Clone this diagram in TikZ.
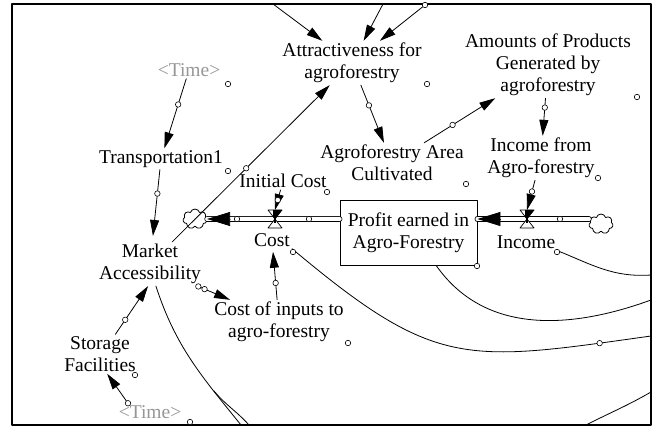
\documentclass[tikz,border=0pt]{standalone}
\usepackage{fontspec}
\setmainfont{Liberation Serif}
\usetikzlibrary{arrows.meta,shapes.symbols}
\definecolor{shadowgray}{RGB}{150,150,150}
\begin{document}
\begin{tikzpicture}[x=1pt, y=-1pt, font=\fontsize{19.5}{22}\selectfont, line join=round, line cap=round, >={Triangle[length=16pt,width=9pt]},
	var/.style={align=center, inner sep=2pt},
	shadowvar/.style={var, text=shadowgray},
	link/.style={->, line width=0.8pt},
	curvelink/.style={line width=0.8pt},
	handle/.style={circle, draw, fill=white, inner sep=0pt, minimum size=5.5pt, line width=0.6pt},
	pipe/.style={double, double distance=4pt, line width=0.8pt},
	flowhead/.style={-{Triangle[length=23pt,width=14pt]}, line width=0.8pt},
	stock/.style={draw, line width=0.8pt, align=center, minimum width=137pt, minimum height=65pt},
	sink/.style={cloud, cloud puffs=7, draw, line width=0.8pt, minimum width=24pt, minimum height=20pt, inner sep=0pt}]
	\useasboundingbox (0,0) rectangle (655,427);
	\draw[line width=2.4pt] (12,4) rectangle (651,425);

	\node[var] (attr) at (352,63) {Attractiveness for\\agroforestry};
	\node[var] (amounts) at (548,65) {Amounts of Products\\Generated by\\agroforestry};
	\node[shadowvar] (time1) at (189,70) {<Time>};
	\node[var] (transp) at (161,159) {Transportation1};
	\node[var] (area) at (392,163) {Agroforestry Area\\Cultivated};
	\node[var] (incfrom) at (541,158) {Income from\\Agro-forestry};
	\node[var] (initc) at (283,181) {Initial Cost};
	\node[stock] (profit) at (408.5,232.5) {Profit earned in\\Agro-Forestry};
	\node[var] (market) at (150,264) {Market\\Accessibility};
	\node[var] (costlbl) at (272,240) {Cost};
	\node[var] (incomelbl) at (526,242) {Income};
	\node[var] (inputs) at (279,322) {Cost of inputs to\\agro-forestry};
	\node[var] (storage) at (100,354) {Storage\\Facilities};
	\node[shadowvar] (time2) at (150,412) {<Time>};

	\node[sink] (cloudL) at (195,219) {};
	\node[sink] (cloudR) at (601,224) {};
	\coordinate (vcost) at (275,219);
	\coordinate (vinc) at (527,219);
	\coordinate (pL) at (profit.west |- vcost);
	\coordinate (pR) at (profit.east |- vinc);
	\draw[pipe] (pL) -- (cloudL.east);
	\draw[pipe] (pR) -- (cloudR.west |- vinc);
	\draw[flowhead] ([shift={(23,0)}]cloudL.east) -- (cloudL.east);
	\draw[flowhead] ([shift={(23,0)}]pR) -- (pR);
	\foreach \v in {vcost,vinc}{
		\draw[fill=white, line width=0.7pt] ([shift={(-7,-9)}]\v) -- ++(14,0) -- ++(-14,18) -- ++(14,0) -- cycle;
		\fill ([shift={(-2,-9)}]\v) -- ++(9,0) -- ++(-7,9) -- ++(-2,-2) -- cycle;
		\fill ([shift={(-1.2,-9)}]\v) rectangle ++(2.4,13);
	}
	\node[handle] (pc1) at (237,219) {};
	\node[handle] (pc2) at (309,219) {};
	\node[handle] (pc3) at (560,219) {};

	\coordinate (top1) at (273,4);
	\coordinate (top2) at (383,4);
	\coordinate (top3) at (425,5);
	\draw[link] (top1) -- (attr);
	\draw[link] (top2) -- (attr);
	\draw[link] (top3) node[handle] (h0) {} -- (attr);

	\draw[link] (time1) -- node[handle, pos=0.37] (h1) {} (transp);
	\draw[link, shorten >=6pt] (transp) -- node[handle, pos=0.33] (h2) {} (market);
	\draw[link] (market) -- node[handle, pos=0.47] (h3) {} (attr);
	\draw[link] (storage.52) -- node[handle, pos=0.3] (h4) {} (market.-95);
	\draw[link] ([shift={(-22,0)}]time2.north) node[handle] (h5) {} -- (storage.-70);
	\draw[link] (market.-25) -- node[handle, pos=0.03] (h6) {} node[handle, pos=0.22] (h7) {} ([shift={(18,0)}]inputs.north west);
	\draw[link, shorten >=3pt] (inputs) -- node[handle, pos=0.33] (h8) {} (costlbl);
	\draw[link] (initc) -- node[handle, pos=0.5] (h9) {} ([shift={(0,-9)}]vcost);
	\draw[link] (attr) -- node[handle, pos=0.35] (h10) {} (area);
	\draw[link] (area) -- node[handle, pos=0.4] (h11) {} (amounts);
	\draw[link] (amounts) -- node[handle, pos=0.25] (h12) {} (incfrom);
	\draw[link] (incfrom) -- node[handle, pos=0.38] (h13) {} ([shift={(0,-9)}]vinc);

	\coordinate (out1) at (651,336);
	\coordinate (out2) at (651,300);
	\coordinate (out3) at (651,275);
	\coordinate (out4) at (241,425);
	\coordinate (in5) at (214,391);
	\coordinate (out5) at (249,425);
	\coordinate (in6) at (586,425);
	\coordinate (out6) at (651,392);
	\draw[curvelink] (costlbl.south east) to[out=-40, in=188, looseness=1.3] node[handle, pos=0.9] (h14) {} (out1);
	\draw[curvelink] (profit.-50) to[out=-55, in=200] (out2);
	\draw[curvelink] (incomelbl.south east) to[out=-22, in=184] (out3);
	\draw[curvelink] (market.-75) to[out=-72, in=129] (out4);
	\draw[curvelink] (in5) to[out=-50, in=132] (out5);
	\draw[curvelink] (in6) to[out=27, in=210] (out6);

	\foreach \p [count=\i] in {(228,84),(228,171),(427,84),(637,97),(327,192),(466,184),(598,178),(293,252),(348,343),(135,375),(190,422),(477,266),(557,252)}
		\node[handle] (dot\i) at \p {};
\end{tikzpicture}
\end{document}
